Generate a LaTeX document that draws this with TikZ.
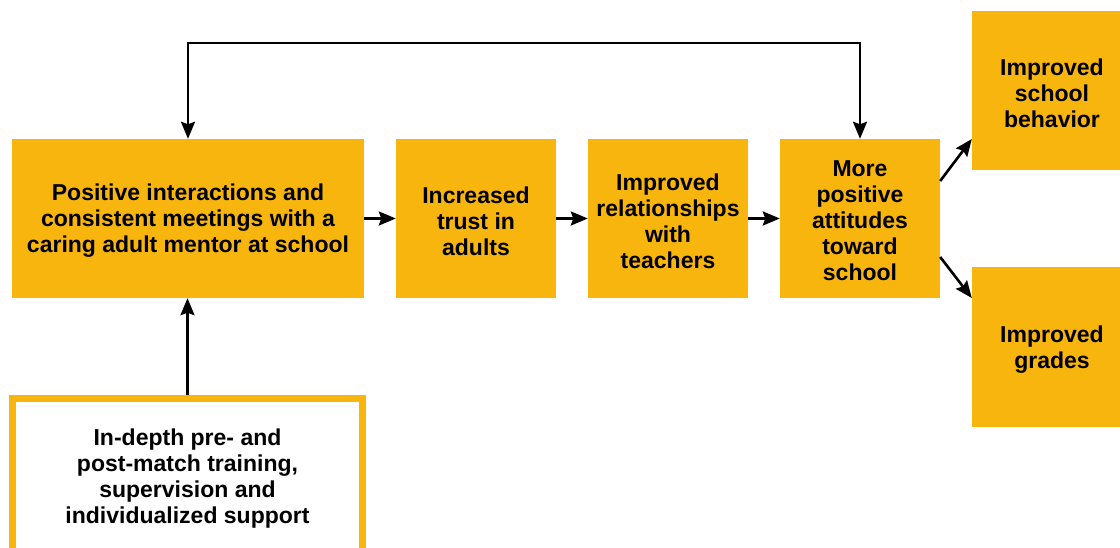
\documentclass[tikz,border=0pt]{standalone}
\usepackage{fontspec}
\setmainfont{Liberation Sans}
\usetikzlibrary{arrows.meta}
\definecolor{mango}{HTML}{F7B50D}
\tikzset{
  box/.style={fill=mango, draw=none, inner sep=0pt,
    minimum width=160pt, minimum height=159pt},
  whitebox/.style={fill=white, draw=mango, line width=7pt, inner sep=0pt,
    minimum width=350pt, minimum height=155pt},
  txt/.style={inner sep=0pt, align=center, font=\fontsize{23}{26}\selectfont\bfseries},
  tip/.style={Stealth[length=17pt,width=14pt,inset=2.5pt]},
  arr/.style={line width=2.6pt, -{Stealth[length=17pt,width=14pt,inset=2.5pt]}},
  arrboth/.style={line width=2.6pt, {Stealth[length=17pt,width=14pt,inset=2.5pt]}-{Stealth[length=17pt,width=14pt,inset=2.5pt]}}
}
\begin{document}
\begin{tikzpicture}[x=1pt,y=-1pt]
\clip (0,0) rectangle (1120,548);
\fill[white] (0,0) rectangle (1120,548);
\node[box, minimum width=352pt] (A) at (188,218.5) {};
\node[box] (B) at (476,218.5) {};
\node[box] (C) at (668,218.5) {};
\node[box] (D) at (860,218.5) {};
\node[box] (E) at (1052,90.5) {};
\node[box, minimum height=160pt] (F) at (1052,347) {};
\node[whitebox] (G) at (187.5,476) {};
\node[txt] (At) at ([yshift=-2.5pt]A.center) {Positive interactions and\\consistent meetings with a\\caring adult mentor at school};
\node[txt] (Bt) at ([yshift=-2.5pt]B.center) {Increased\\trust in\\adults};
\node[txt] (Ct) at ([yshift=-2.5pt]C.center) {Improved\\relationships\\with\\teachers};
\node[txt] (Dt) at ([yshift=-2.5pt]D.center) {More\\positive\\attitudes\\toward\\school};
\node[txt] (Et) at ([yshift=-2.5pt]E.center) {Improved\\school\\behavior};
\node[txt] (Ft) at ([yshift=-2.5pt]F.center) {Improved\\grades};
\node[txt] (Gt) at ([yshift=-3pt]G.center) {In-depth pre- and\\post-match training,\\supervision and\\individualized support};
\coordinate (top) at (500,43);
\draw[arrboth] (A.north) |- (top) -| (D.north);
\draw[arr] (A) -- (B);
\draw[arr] (B) -- (C);
\draw[arr] (C) -- (D);
\draw[arr] (D.east |- 0,181) -- (E.west |- 0,139);
\draw[arr] (D.east |- 0,257) -- (F.west |- 0,298);
\draw[arr] (G.north) -- (A.south -| G.north);
\end{tikzpicture}
\end{document}
